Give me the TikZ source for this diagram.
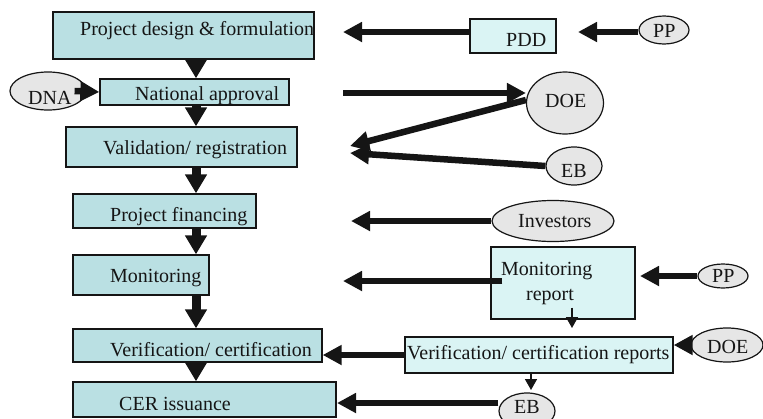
\documentclass[tikz,border=0pt]{standalone}
\usepackage{fontspec}
\setmainfont{Liberation Serif}
\usetikzlibrary{shapes.geometric,arrows.meta}
\definecolor{boxfill}{HTML}{BAE0E3}
\definecolor{lightfill}{HTML}{DAF4F4}
\definecolor{ellfill}{HTML}{E6E6E6}
\definecolor{ink}{HTML}{151515}
\tikzset{
  x=1pt,y=-1pt,
  box/.style={draw=ink,line width=1.3pt,fill=boxfill,rectangle,inner sep=0pt},
  lbox/.style={draw=ink,line width=1.3pt,fill=lightfill,rectangle,inner sep=0pt},
  ell/.style={draw=ink,line width=1.2pt,fill=ellfill,ellipse,inner sep=0pt},
  txt/.style={anchor=base west,inner sep=0pt,text=ink,font=\fontsize{20}{24}\selectfont},
  harrow/.style={draw=ink,line width=6.5pt,-{Triangle[length=19pt,width=19pt]}},
  varrow/.style={draw=ink,line width=9pt,-{Triangle[length=19pt,width=21pt]}},
  tarrow/.style={draw=ink,line width=1.6pt,-{Triangle[length=11pt,width=12pt]}},
}
\begin{document}
\begin{tikzpicture}
\useasboundingbox (0,0) rectangle (763,418);
% left column boxes
\node[box,minimum width=261pt,minimum height=47pt] (b1) at (183.5,35.5) {};
\node[box,minimum width=189pt,minimum height=26pt] (b2) at (194.5,92) {};
\node[box,minimum width=231pt,minimum height=40pt] (b3) at (181.5,147) {};
\node[box,minimum width=183pt,minimum height=34pt] (b4) at (164.5,211) {};
\node[box,minimum width=136pt,minimum height=40pt] (b5) at (141,275) {};
\node[box,minimum width=249pt,minimum height=33pt] (b6) at (197.5,345.5) {};
\node[box,minimum width=263pt,minimum height=35pt] (b7) at (204.5,399.5) {};
% right side boxes
\node[lbox,minimum width=86pt,minimum height=34pt] (pdd) at (513,36) {};
\node[lbox,minimum width=144pt,minimum height=72pt] (mr) at (563,283) {};
\node[lbox,minimum width=268pt,minimum height=36pt] (vcr) at (539,355) {};
% ellipses
\node[ell,minimum width=50pt,minimum height=28pt] (pp1) at (664,30) {};
\node[ell,minimum width=77pt,minimum height=62pt] (doe1) at (565,103) {};
\node[ell,minimum width=56pt,minimum height=38pt] (eb1) at (574,166) {};
\node[ell,minimum width=122pt,minimum height=41pt] (inv) at (553,221) {};
\node[ell,minimum width=50pt,minimum height=24pt] (pp2) at (723,276) {};
\node[ell,minimum width=72pt,minimum height=34pt] (doe2) at (727,345) {};
\node[ell,minimum width=56pt,minimum height=36pt] (eb3) at (527,411) {};
\node[ell,minimum width=76pt,minimum height=38pt] (dna) at (48,91) {};
% texts
\node[txt] (t1) at (80,35) {Project design \& formulation};
\node[txt] (t2) at (135,100) {National approval};
\node[txt] (t3) at (103,154) {Validation/ registration};
\node[txt] (t4) at (110,221) {Project financing};
\node[txt] (t5) at (110,282) {Monitoring};
\node[txt] (t6) at (110,356) {Verification/ certification};
\node[txt] (t7) at (119,410) {CER issuance};
\node[txt] (tpdd) at (506,46) {PDD};
\node[txt] (tmr1) at (501,275) {Monitoring};
\node[txt] (tmr2) at (526,300) {report};
\node[txt] (tvcr) at (407,359) {Verification/ certification reports};
\node[txt] (tpp1) at (653,37) {PP};
\node[txt] (tdoe1) at (545,107) {DOE};
\node[txt] (teb1) at (561,177) {EB};
\node[txt] (tinv) at (518,227) {Investors};
\node[txt] (tpp2) at (712,282) {PP};
\node[txt] (tdoe2) at (707,353) {DOE};
\node[txt] (teb3) at (514,413) {EB};
\node[txt] (tdna) at (28,104) {DNA};
% free ends
\coordinate (sp) at (196,0);
\coordinate (e1) at (343,32);
\coordinate (e2) at (578,32);
\coordinate (e3) at (343,93);
\coordinate (e4) at (350,146);
\coordinate (e5) at (350,153);
\coordinate (e6) at (351,221);
\coordinate (e7) at (343,281);
\coordinate (e8) at (640,276);
\coordinate (e9) at (572,328);
\coordinate (e12) at (531,390);
\coordinate (e13) at (337,403);
% vertical flow
\draw[varrow] (b1.south -| sp) -- (b2.north -| sp);
\draw[varrow] (b2.south -| sp) -- (b3.north -| sp);
\draw[varrow] (b3.south -| sp) -- (b4.north -| sp);
\draw[varrow] (b4.south -| sp) -- (b5.north -| sp);
\draw[varrow] (b5.south -| sp) -- (b6.north -| sp);
\draw[varrow] (b6.south -| sp) -- (b7.north -| sp);
% horizontal arrows
\draw[harrow] (pdd.west |- e1) -- (e1);
\draw[harrow] (pp1.west |- e2) -- (e2);
\draw[harrow] (e3) -- (doe1.west |- e3);
\draw[harrow] ([yshift=3pt]doe1.west) -- (e4);
\draw[harrow] (eb1.west) -- (e5);
\draw[harrow] (inv.west) -- (e6);
\draw[harrow] ([xshift=12pt,yshift=2pt]mr.west) -- (e7);
\draw[harrow] (pp2.west) -- (e8);
\draw[tarrow] ([xshift=9pt,yshift=12pt]mr.south) -- (e9);
\draw[harrow] (doe2.west) -- (vcr.east |- doe2.west);
\draw[harrow] (vcr.west) -- (b6.east |- vcr.west);
\draw[tarrow] (vcr.south -| e12) -- (e12);
\draw[harrow] (eb3.west |- e13) -- (e13);
\draw[harrow] ([xshift=-12pt]dna.east) -- (b2.west);
\end{tikzpicture}
\end{document}
